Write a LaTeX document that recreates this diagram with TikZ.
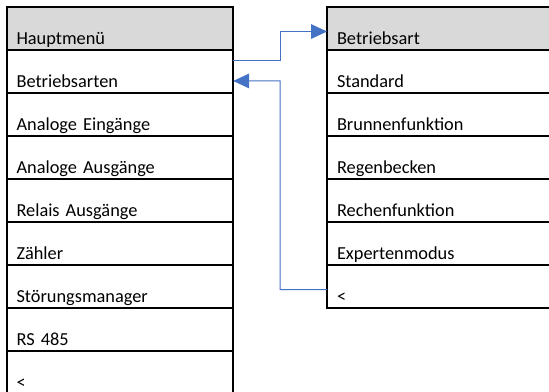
\documentclass[tikz,border=0pt]{standalone}
\usepackage{fontspec}
\setmainfont{Carlito}
\usepackage{tikz}
\usetikzlibrary{arrows.meta, calc, positioning}
\definecolor{kopf}{HTML}{D9D9D9}
\definecolor{pfeil}{HTML}{4472C4}

\begin{document}
\begin{tikzpicture}[node distance=0pt,font=\fontsize{13.75}{16}\selectfont,
	weg/.style={pfeil,line width=0.75pt,-{Triangle[length=12pt,width=11pt]}}]
	\tikzset{feld/.style={draw,line width=1.5pt,rectangle,outer sep=0pt,inner ysep=0pt,inner xsep=7.5pt,
		align=left,text height=28.35pt,text depth=3.9pt},
		links/.style={feld,text width=155pt},
		rechts/.style={feld,text width=165pt}}
	\useasboundingbox (0,0) rectangle (411.75pt,-294pt);
	% Hauptmenue
	\node[links,fill=kopf,anchor=north west] (h0) at (4.9pt,-5.25pt) {Hauptmenü};
	\node[links] (h1) [below=of h0] {Betriebsarten};
	\node[links] (h2) [below=of h1] {Analoge Eingänge};
	\node[links] (h3) [below=of h2] {Analoge Ausgänge};
	\node[links] (h4) [below=of h3] {Relais Ausgänge};
	\node[links] (h5) [below=of h4] {Zähler};
	\node[links] (h6) [below=of h5] {Störungsmanager};
	\node[links] (h7) [below=of h6] {RS 485};
	\node[links] (h8) [below=of h7] {<};
	% Betriebsart
	\node[rechts,fill=kopf,anchor=north west] (b0) at (245.25pt,-5.25pt) {Betriebsart};
	\node[rechts] (b1) [below=of b0] {Standard};
	\node[rechts] (b2) [below=of b1] {Brunnenfunktion};
	\node[rechts] (b3) [below=of b2] {Regenbecken};
	\node[rechts] (b4) [below=of b3] {Rechenfunktion};
	\node[rechts] (b5) [below=of b4] {Expertenmodus};
	\node[rechts] (b6) [below=of b5] {<};
	% Pfeile
	\coordinate (a) at ($(h1.north east)!0.25!(h1.south east)$);
	\coordinate (b) at ($(b0.north west)!0.57!(b0.south west)$);
	\coordinate (c) at ($(b6.north west)!0.57!(b6.south west)$);
	\coordinate (d) at ($(h1.north east)!0.72!(h1.south east)$);
	\draw[weg] (a) -- ($(a)!0.5!(a -| b)$) |- (b);
	\draw[weg] (c) -- ($(c)!0.5!(c -| d)$) |- (d);
\end{tikzpicture}
\end{document}
